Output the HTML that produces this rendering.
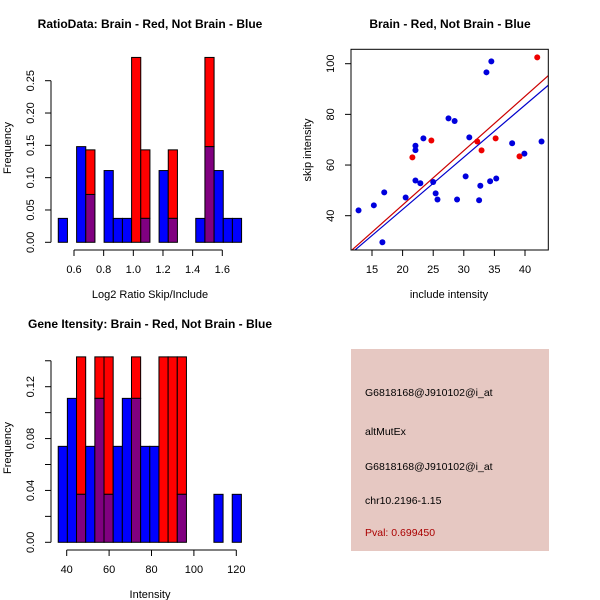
<!DOCTYPE html>
<html><head><meta charset="utf-8"><style>
body{margin:0;background:#fff}
svg{display:block;font-family:"Liberation Sans",sans-serif}
text{fill:#000}
</style></head><body>
<svg id="s" width="600" height="600" viewBox="0 0 600 600"></svg>
<script>
// Panel 1: ratio histogram (20 bins)
const ratioBlue=[0.037,0,0.148,0.074,0,0.111,0.037,0.037,0,0.037,0,0.111,0.037,0,0,0.037,0.148,0.111,0.037,0.037];
const ratioRed=[0,0,0,0.143,0,0,0,0,0.286,0.143,0,0,0.143,0,0,0,0.286,0,0,0];
const ratioStart=0.494, ratioWidth=0.0618;
const ratioXTicks=[0.6,0.8,1.0,1.2,1.4,1.6];
const ratioXTickLabels=["0.6","0.8","1.0","1.2","1.4","1.6"];
const ratioYTicks=[0,0.05,0.1,0.15,0.2,0.25];
const ratioYTickLabels=["0.00","0.05","0.10","0.15","0.20","0.25"];
// Panel 2: scatter
const blueInc=[12.8,15.3,17.0,16.7,20.5,22.1,22.1,22.1,22.9,23.4,25.0,25.4,25.7,27.5,28.5,28.9,30.3,30.9,32.7,32.5,33.7,34.5,34.3,35.3,37.9,39.9,42.7];
const blueSkip=[42.1,44.1,49.2,29.5,47.2,67.6,65.9,53.9,52.8,70.5,53.3,48.8,46.4,78.4,77.4,46.4,55.5,70.9,51.8,46.1,96.6,100.9,53.6,54.7,68.6,64.5,69.3];
const redInc=[21.6,24.7,32.2,32.9,35.2,39.1,42.0];
const redSkip=[63.0,69.7,69.3,65.8,70.5,63.4,102.5];
const fitSlope=[2.146,2.06]; // red, blue
const fitIntercept=[1.29,1.27];
const scXTicks=[15,20,25,30,35,40];
const scYTicks=[40,60,80,100];
// Panel 3: intensity histogram
const intBlue=[0.074,0.111,0.037,0.074,0.111,0.037,0.074,0.111,0.111,0.074,0.074,0,0,0.037,0,0,0,0.037,0,0.037];
const intRed=[0,0,0.143,0,0.143,0.143,0,0,0.143,0,0,0.143,0.143,0.143,0,0,0,0,0,0];
const intStart=36.0, intWidth=4.32;
const intXTicks=[40,60,80,100,120];
const intYTicks=[0,0.02,0.04,0.06,0.08,0.1,0.12,0.14];
const intYLabels=["0.00","","0.04","","0.08","","0.12",""];

const NS="http://www.w3.org/2000/svg";
const svg=document.getElementById('s');
function mk(tag,attrs,parent,txt){const e=document.createElementNS(NS,tag);for(const k in attrs)e.setAttribute(k,attrs[k]);if(txt!==undefined)e.textContent=txt;(parent||svg).appendChild(e);return e;}

function hist(g,blue,red,start,w,sx,sy){
  for(let i=0;i<blue.length;i++){
    const x0=sx(start+i*w),x1=sx(start+(i+1)*w);
    const b=blue[i],r=red[i],lo=Math.min(b,r),hi=Math.max(b,r);
    if(hi>0){
      const top=mk('rect',{x:x0,y:sy(hi),width:x1-x0,height:sy(lo)-sy(hi),fill:r>b?'#ff0000':'#0000ff',stroke:'#000','stroke-width':1},g);
      
      
    }
    if(lo>0){
      const p=mk('rect',{x:x0,y:sy(lo),width:x1-x0,height:sy(0)-sy(lo),fill:'#800080',stroke:'#000','stroke-width':1},g);
      
      
    }
  }
}
function yaxis(g,x,ticks,labels,sy){
  mk('line',{x1:x,x2:x,y1:sy(ticks[0]),y2:sy(ticks[ticks.length-1]),stroke:'#000'},g);
  ticks.forEach((t,i)=>{mk('line',{x1:x-6,x2:x,y1:sy(t),y2:sy(t),stroke:'#000'},g);
    if(labels[i]){const tx=mk('text',{x:0,y:0,'font-size':11,'text-anchor':'middle',transform:`translate(${x-17},${sy(t)}) rotate(-90)`},g,labels[i]);
    }});
}
function xaxis(g,y,ticks,labels,sx){
  mk('line',{x1:sx(ticks[0]),x2:sx(ticks[ticks.length-1]),y1:y,y2:y,stroke:'#000'},g);
  ticks.forEach((t,i)=>{mk('line',{x1:sx(t),x2:sx(t),y1:y,y2:y+6,stroke:'#000'},g);
    const tx=mk('text',{x:sx(t),y:y+23,'font-size':11,'text-anchor':'middle'},g,labels[i]);
    });
}
function label(txt,x,y,name,opts){const t=mk('text',Object.assign({x:x,y:y,'font-size':11,'text-anchor':'middle'},opts||{}),svg,txt);return t;}

// Panel 1
{
  const g=mk('g',{});
  const sx=v=>74+(v-0.6)*(222.3-74)/1.0, sy=v=>242.3-v*(242.3-80.7)/0.25;
  hist(g,ratioBlue,ratioRed,ratioStart,ratioWidth,sx,sy);
  yaxis(g,51,ratioYTicks,ratioYTickLabels,sy);
  xaxis(g,250,ratioXTicks,ratioXTickLabels,sx);
  label('RatioData: Brain - Red, Not Brain - Blue',150,28,'ratio-title',{'font-weight':'bold','font-size':12});
  label('Log2 Ratio Skip/Include',150,298,'ratio-x-title');
  label('Frequency',0,0,'ratio-y-title',{transform:'translate(11,148) rotate(-90)'});
}
// Panel 2
{
  const g=mk('g',{});
  const sx=v=>372+(v-15)*(525-372)/25, sy=v=>215.7-(v-40)*(215.7-63.7)/60;
  const L=351,R=548.3,T=49.3,B=250;
  mk('defs',{},svg).innerHTML='<clipPath id="cp"><rect x="351" y="49.3" width="197.3" height="200.7"/></clipPath>';
  const lg=mk('g',{'clip-path':'url(#cp)'},g);
  ['#cc0000','#0000cc'].forEach((c,i)=>{const x0=10,x1=45;
    const ln=mk('line',{x1:sx(x0),y1:sy(fitSlope[i]*x0+fitIntercept[i]),x2:sx(x1),y2:sy(fitSlope[i]*x1+fitIntercept[i]),stroke:c,'stroke-width':1.2},lg);
    });
  blueInc.forEach((v,i)=>{const c=mk('circle',{cx:sx(v),cy:sy(blueSkip[i]),r:3,fill:'#0000dd'},g);
    });
  redInc.forEach((v,i)=>{const c=mk('circle',{cx:sx(v),cy:sy(redSkip[i]),r:3,fill:'#ee0000'},g);
    });
  mk('rect',{x:L,y:T,width:R-L,height:B-T,fill:'none',stroke:'#000'},g);
  scXTicks.forEach(t=>{mk('line',{x1:sx(t),x2:sx(t),y1:B,y2:B+6,stroke:'#000'},g);
    const tx=mk('text',{x:sx(t),y:B+23,'font-size':11,'text-anchor':'middle'},g,String(t));});
  scYTicks.forEach(t=>{mk('line',{x1:L-6,x2:L,y1:sy(t),y2:sy(t),stroke:'#000'},g);
    const tx=mk('text',{x:0,y:0,'font-size':11,'text-anchor':'middle',transform:`translate(${L-17},${sy(t)}) rotate(-90)`},g,String(t));});
  label('Brain - Red, Not Brain - Blue',450,28,'scatter-title',{'font-weight':'bold','font-size':12});
  label('include intensity',449,298,'scatter-x-title');
  label('skip intensity',0,0,'scatter-y-title',{transform:'translate(311,150) rotate(-90)'});
}
// Panel 3
{
  const g=mk('g',{});
  const sx=v=>66.7+(v-40)*(236.3-66.7)/80, sy=v=>542.3-v*(542.3-386.7)/0.12;
  hist(g,intBlue,intRed,intStart,intWidth,sx,sy);
  yaxis(g,51,intYTicks,intYLabels,sy);
  xaxis(g,550,intXTicks,intXTicks.map(String),sx);
  label('Gene Itensity: Brain - Red, Not Brain - Blue',150,328,'intensity-title',{'font-weight':'bold','font-size':12});
  label('Intensity',150,598,'intensity-x-title');
  label('Frequency',0,0,'intensity-y-title',{transform:'translate(11,448) rotate(-90)'});
}
// Panel 4
{
  const r=mk('rect',{x:351,y:349,width:198,height:202,fill:'#e6c8c2'});
  const lines=[['G6818168@J910102@i_at',396,'probe-id'],['altMutEx',435,'event-type'],['G6818168@J910102@i_at',470,'probe-id-2'],['chr10.2196-1.15',504,'location'],['Pval: 0.699450',536,'p-value']];
  lines.forEach((l,i)=>{const t=mk('text',{x:365,y:l[1],'font-size':10.5},svg,l[0]);if(i==4)t.setAttribute('style','fill:#aa0000');
    });
}
</script>
</body></html>
